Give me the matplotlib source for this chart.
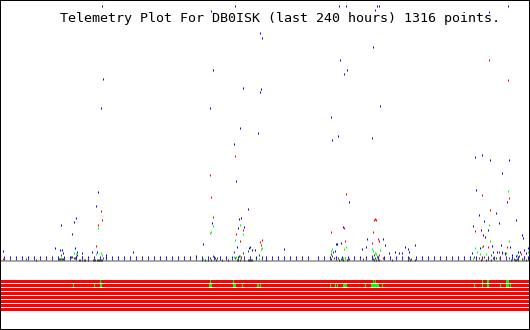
import numpy as np
import matplotlib
matplotlib.use('Agg')
from matplotlib import pyplot as plt

# x = time bin (528 bins over the last 240 h), y = raw telemetry value
title = 'Telemetry Plot For DB0ISK (last 240 hours) 1316 points.'

# regular beacon samples along the baseline
base_bins = [2, 8, 14, 20, 26, 32, 38, 44, 50, 56, 62, 68, 74, 80, 86, 92, 98, 104, 110,
             116, 122, 128, 134, 140, 146, 152, 158, 164, 170, 176, 182, 188, 194, 200, 206,
             212, 218, 224, 230, 236, 242, 248, 254, 260, 264, 270, 276, 282, 288, 294, 300,
             306, 316, 322, 328, 334, 340, 346, 352, 358, 364, 370, 376, 382, 388, 394, 400,
             406, 414, 420, 426, 432, 438, 444, 450, 456, 462, 468, 474, 480, 486, 492, 498,
             504, 510, 516, 522, 526]
base_blue = [3] * len(base_bins)
base_grey = [1] * len(base_bins)

blue_t = [100, 209, 233, 258, 260, 211, 101, 241, 259, 258, 99, 208, 238, 256, 232, 234,
          246, 239, 237, 210, 242, 236, 201, 235, 248, 247, 250, 253, 282, 194,
          337, 344, 375, 377, 373, 371, 338, 345, 342, 378, 329, 336, 330, 370, 347, 341,
          365, 381, 339, 335, 334, 383, 413, 364, 403, 360, 406, 333, 387, 393, 397, 400, 407,
          487, 506, 473, 480, 488, 507, 500, 474, 505, 494, 477, 482, 497, 514, 471, 479,
          486, 481, 483, 520, 521, 499, 508, 478, 490, 526, 491, 495, 500, 503, 522, 518,
          516, 524, 470, 510, 514,
          96, 94, 74, 72, 59, 70, 53, 58, 60, 61, 73, 75, 80, 90, 95, 104, 131, 1]
blue_v = [254, 249, 254, 227, 222, 190, 181, 172, 171, 168, 152, 152, 132, 127, 116, 79,
          51, 42, 41, 37, 33, 32, 16, 13, 13, 12, 10, 10, 11, 4,
          254, 254, 254, 254, 250, 213, 200, 190, 186, 154, 143, 124, 120, 122, 58, 33,
          21, 21, 17, 16, 16, 15, 15, 13, 13, 11, 11, 9, 7, 8, 7, 7, 8,
          248, 254, 103, 105, 100, 100, 87, 70, 58, 47, 45, 39, 37, 40, 34, 30,
          30, 25, 23, 25, 22, 15, 13, 12, 14, 12, 8, 8, 7, 7, 10, 8,
          8, 7, 7, 5, 4,
          68, 54, 42, 38, 35, 26, 12, 10, 10, 7, 12, 8, 7, 8, 8, 5, 8, 9]

red_t = [99, 100, 96, 94, 1,
         233, 208, 209, 211, 241, 234, 238, 260, 258, 259, 239,
         344, 372, 373, 374, 329, 371, 342, 376, 377, 343, 370, 377, 381,
         487, 506, 480, 507, 488, 473, 505, 481, 486, 519, 480, 498, 520]
red_v = [49, 40, 35, 14, 1,
         104, 85, 63, 43, 30, 26, 19, 20, 18, 15, 3,
         66, 40, 41, 40, 28, 28, 32, 21, 19, 19, 17, 5, 2,
         200, 180, 65, 62, 50, 29, 13, 14, 13, 6, 2, 2, 1]

green_t = [96, 72, 74, 94, 99, 100, 59,
           211, 238, 209, 208, 241, 233, 260, 259, 232, 234, 238, 257, 201,
           344, 330, 329, 342, 370, 371, 378, 373, 374, 375, 343, 341,
           506, 487, 488, 507, 473, 480, 475, 504, 484, 478, 471, 497, 521, 515, 526]
green_v = [32, 7, 6, 6, 7, 5, 2,
           34, 35, 28, 27, 26, 20, 12, 11, 3, 3, 4, 1, 1,
           13, 11, 9, 11, 11, 9, 10, 7, 6, 4, 2, 2,
           69, 35, 19, 19, 12, 13, 8, 7, 6, 6, 1, 2, 0, 5, 8]

grey_t = [24, 34, 56, 57, 58, 59, 60, 61, 62, 59, 69, 70, 72, 73, 74, 75, 77, 78, 80, 80,
          82, 83, 86, 91, 92, 93, 95, 96, 97, 98, 99, 100, 101, 104,
          200, 203, 206, 208, 209, 211, 213, 214, 215, 220, 226, 232, 233, 235, 236, 237,
          238, 239, 241, 242, 246, 247, 248, 249, 250, 246, 254, 257, 264,
          329, 330, 331, 332, 329, 334, 336, 337, 339, 341, 343, 345, 347, 361, 370, 371,
          372, 372, 373, 374, 375, 376, 377, 382, 390, 406, 407, 408, 409, 413,
          472, 474, 477, 479, 482, 484, 486, 489, 494, 497, 500, 503, 507, 509, 512, 513,
          514, 515, 516, 517, 520, 522, 524, 526, 527, 489, 491]
grey_v = [1, 0, 1, 1, 1, 1, 1, 1, 1, 5, 3, 3, 2, 2, 3, 5, 0, 0, 0, 3,
          0, 0, 0, 0, 0, 0, 0, 0, 0, 0, 0, 0, 2, 2,
          0, 0, 0, 2, 0, 4, 2, 0, 2, 0, 0, 8, 2, 0, 0, 4,
          0, 2, 7, 0, 0, 0, 0, 0, 0, 9, 2, 5, 0,
          6, 4, 8, 2, 1, 1, 2, 0, 1, 0, 2, 0, 1, 1, 4, 1,
          5, 0, 2, 0, 3, 1, 0, 2, 0, 0, 2, 0, 1, 0,
          3, 1, 2, 0, 3, 0, 1, 0, 2, 8, 8, 6, 2, 0, 1, 0,
          0, 1, 0, 4, 1, 3, 0, 2, 0, 5, 2]

# status bits (8 rows), bins where a bit is set
bit0_on = [99, 209, 232, 372, 374, 481, 486, 487, 505, 506, 507]
bit1_on = [72, 93, 99, 100, 208, 209, 210, 232, 233, 234, 241, 256, 257, 259, 329, 334,
           336, 342, 343, 344, 345, 364, 370, 371, 372, 373, 374, 375, 376, 377, 381, 473,
           481, 486, 487, 499, 505, 506, 507, 509]
n_bits = 8


def dots(ax, t, v, color):
    # 1px wide, 2px tall marks like the original gd plot
    ax.plot(np.array(t), np.array(v), ls='none', marker='|', color=color,
            markersize=1.44, markeredgewidth=0.75, antialiased=False)


fig = plt.figure(figsize=(5.3, 3.3), dpi=100)
ax = fig.add_axes([0, 0, 1, 1])
ax.set_xlim(-1.5, 528.5)
ax.set_ylim(-70, 260)
ax.set_xticks([])
ax.set_yticks([])
for s in ax.spines.values():
    s.set_linewidth(1.44)
    s.set_color('black')

# baseline
ax.axhspan(-2, 0, color='#aaaaaa', lw=0)

# bit rows
for k in range(n_bits):
    ax.axhspan(-23 - 4 * k, -20 - 4 * k, color='#ff0000', lw=0)
for k, on in enumerate([bit0_on, bit1_on]):
    ax.broken_barh([(b - 0.5, 1) for b in on], (-23 - 4 * k, 3),
                   facecolor='#00ff00', lw=0)

dots(ax, base_bins, base_grey, '#404040')
dots(ax, grey_t, grey_v, '#404040')
dots(ax, base_bins, base_blue, '#0000ff')
dots(ax, blue_t, blue_v, '#0000ff')
dots(ax, green_t, green_v, '#00ff00')
dots(ax, red_t, red_v, '#ff0000')

fig.text(59.5 / 530, (330 - 22) / 330, title, family='DejaVu Sans Mono',
         fontsize=9.6, ha='left', va='baseline', color='black')

fig.savefig('out.png', dpi=100)
